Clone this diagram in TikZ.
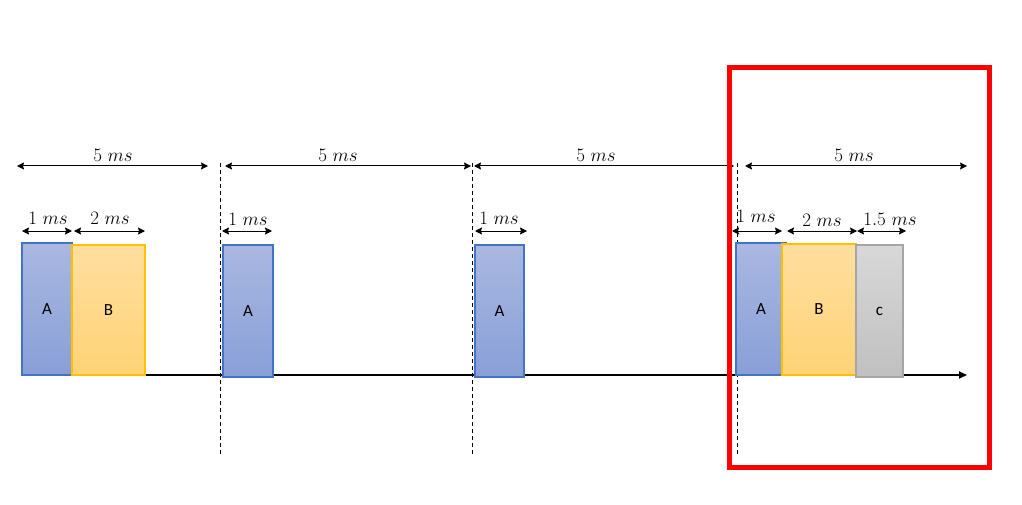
\documentclass[tikz,border=0pt]{standalone}
\usepackage{fix-cm}
\usepackage{fontspec}
\usepackage{xcolor}
\usepackage{tikz}
\usetikzlibrary{positioning, arrows.meta}
\newfontfamily\boxfont{Carlito}
\definecolor{TaskBlue}{RGB}{68,114,196}
\definecolor{TaskBlueTop}{RGB}{170,184,225}
\definecolor{TaskBlueBot}{RGB}{136,159,215}
\definecolor{TaskGold}{RGB}{255,192,0}
\definecolor{TaskGoldTop}{RGB}{255,222,160}
\definecolor{TaskGoldBot}{RGB}{255,211,118}
\definecolor{TaskGrey}{RGB}{165,165,165}
\definecolor{TaskGreyTop}{RGB}{216,216,216}
\definecolor{TaskGreyBot}{RGB}{192,192,192}
\definecolor{FrameRed}{RGB}{255,0,0}
\tikzset{
  task/.style={anchor=north west, inner sep=0pt, outer sep=0pt, line width=1.3pt,
    minimum height=132pt, font=\boxfont\fontsize{17}{20}\selectfont},
  taskA/.style={task, draw=TaskBlue, top color=TaskBlueTop, bottom color=TaskBlueBot, minimum width=50pt},
  taskB/.style={task, draw=TaskGold, top color=TaskGoldTop, bottom color=TaskGoldBot, minimum width=74pt},
  taskC/.style={task, draw=TaskGrey, top color=TaskGreyTop, bottom color=TaskGreyBot, minimum width=47pt},
  span/.style={{Stealth[length=7pt,width=7pt,inset=1pt]}-{Stealth[length=7pt,width=7pt,inset=1pt]}, line width=1pt},
  spanlabel/.style={anchor=south, inner sep=0pt, font=\fontsize{19}{22}\selectfont},
  period/.style={dash pattern=on 4pt off 3pt, line width=0.9pt},
  timeline/.style={-{Triangle[length=8pt,width=7pt]}, line width=2.6pt},
  frame/.style={draw=FrameRed, line width=5pt},
}

\begin{document}
\begin{tikzpicture}[x=1pt, y=-1pt]
  \useasboundingbox (0,0) rectangle (1022,505);

  % period boundaries
  \foreach \px [count=\i] in {220.7, 472.7, 737} {
    \coordinate (ptop\i) at (\px,163);
    \coordinate (pbot\i) at (\px,454);
    \draw[period] (ptop\i) -- (pbot\i);
  }

  % time axis
  \coordinate (t0) at (22,375);
  \coordinate (t1) at (967,375);
  \draw[timeline] (t0) -- (t1);

  % 5 ms periods
  \foreach \xa/\xb/\xl [count=\i] in {17/208/113, 225/471/338, 474/734/596, 745/967/854} {
    \coordinate (s\i) at (\xa,166);
    \coordinate (e\i) at (\xb,166);
    \draw[span] (s\i) -- (e\i);
    \node[spanlabel] (plab\i) at (\xl,162) {$5\ ms$};
  }

  % tasks
  \node[taskA] (a1) at (22,243) {A};
  \node[taskB, minimum width=73pt, minimum height=130pt] (b1) at (72,245) {B};
  \node[taskA] (a2) at (223,245) {A};
  \node[taskA, minimum width=49pt] (a3) at (475,245) {A};
  \node[taskA] (a4) at (736,243) {A};
  \node[taskB, minimum height=131pt] (b4) at (782,244) {B};
  \node[taskC] (c4) at (856,245) {c};

  % execution times
  \foreach \xa/\xb/\xl/\yl/\txt [count=\i] in {22/72/48/225/1, 74/145/110/225/2, 222/272/248/226/1,
      475/527/499/225/1, 732/782/756/223/1, 787/857/822/227/2, 857/906/890/226/1.5} {
    \coordinate (ds\i) at (\xa,231);
    \coordinate (de\i) at (\xb,231);
    \draw[span] (ds\i) -- (de\i);
    \node[spanlabel] (dlab\i) at (\xl,\yl) {$\txt\ ms$};
  }

  % highlighted period
  \draw[frame] (729.5,67.5) rectangle (989.5,467);
\end{tikzpicture}
\end{document}
